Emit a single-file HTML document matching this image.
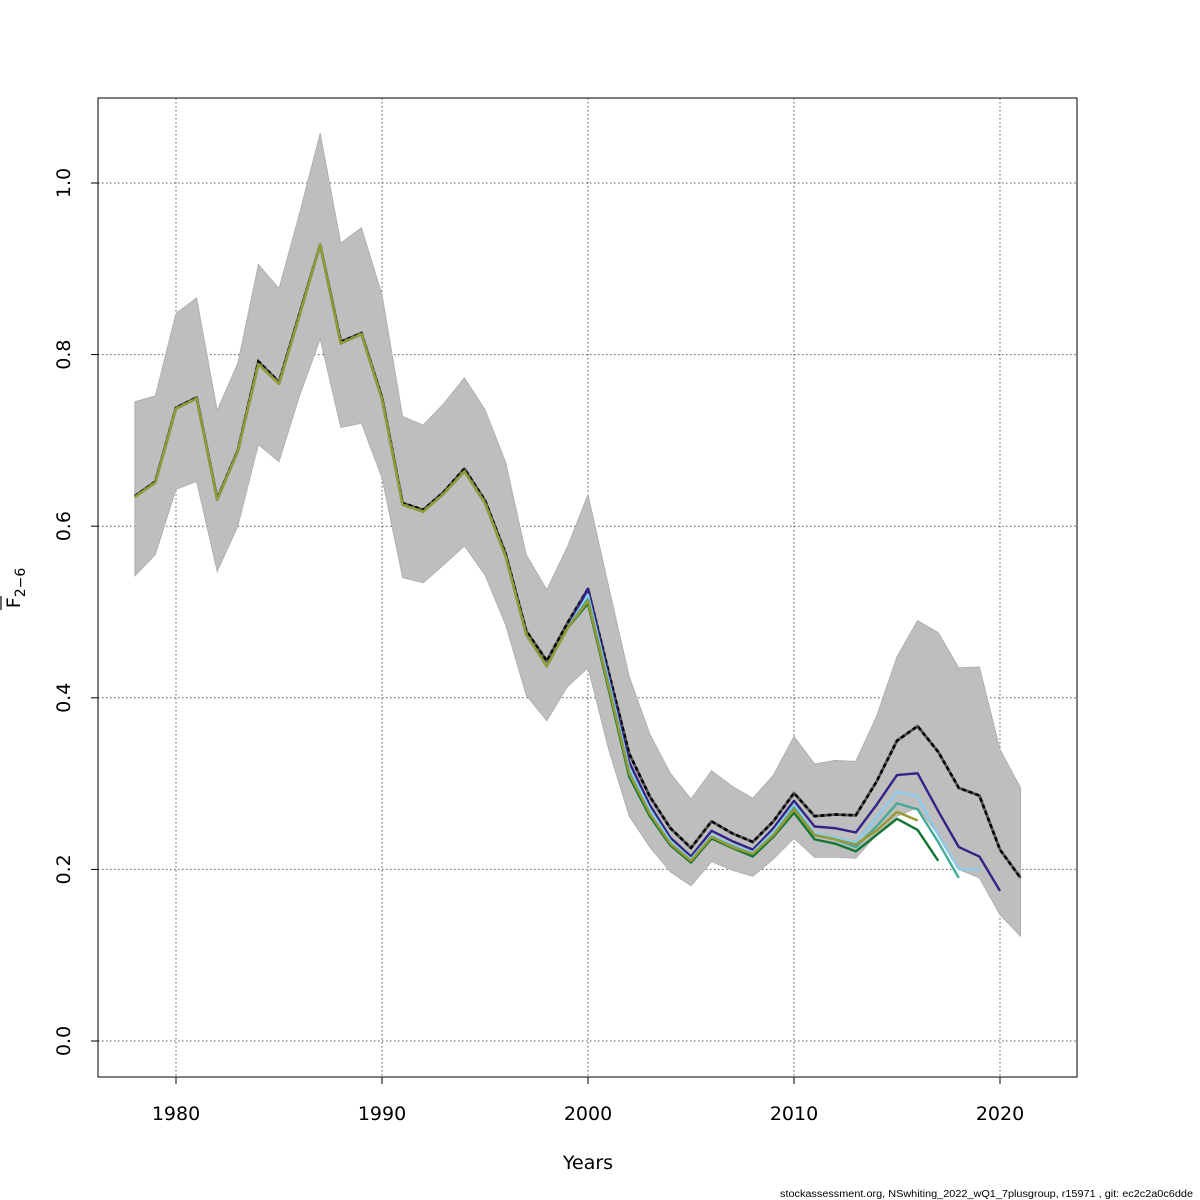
<!DOCTYPE html>
<html><head><meta charset="utf-8"><style>
body{margin:0;background:#fff;}
svg{display:block;font-family:"DejaVu Sans","Liberation Sans",sans-serif;}
</style></head><body>
<svg id="chart" width="1200" height="1200" viewBox="0 0 1200 1200">
<rect width="1200" height="1200" fill="#fff"/>
<g id="grid"></g>
<g id="band"></g>
<g id="lines"></g>
<rect x="98" y="98" width="979" height="979" fill="none" stroke="#000"/>
<g id="axes"></g>
<text x="588" y="1169" font-size="19" text-anchor="middle">Years</text>
<g transform="translate(20,588) rotate(-90)">
<text x="0" y="0" font-size="19" text-anchor="middle">F<tspan font-size="14" dy="5">2−6</tspan></text>
<line x1="-22" y1="-19" x2="-8" y2="-19" stroke="#000" stroke-width="1.2"/>
</g>
<text x="1193" y="1197" font-size="10" text-anchor="end" textLength="413" lengthAdjust="spacingAndGlyphs" font-family="Liberation Sans, sans-serif">stockassessment.org, NSwhiting_2022_wQ1_7plusgroup, r15971 , git: ec2c2a0c6dde</text>
</svg>
<script>
const years=[1978,1979,1980,1981,1982,1983,1984,1985,1986,1987,1988,1989,1990,1991,1992,1993,1994,1995,1996,1997,1998,1999,2000,2001,2002,2003,2004,2005,2006,2007,2008,2009,2010,2011,2012,2013,2014,2015,2016,2017,2018,2019,2020,2021];
const estimate=[.635,.652,.738,.75,.632,.688,.792,.768,.848,.928,.815,.825,.75,.627,.619,.64,.667,.63,.568,.478,.443,.487,.527,.43,.335,.285,.248,.225,.256,.242,.232,.256,.289,.262,.264,.263,.302,.35,.367,.337,.295,.286,.223,.19];
const upper=[.745,.752,.848,.866,.735,.79,.905,.877,.965,1.058,.93,.948,.87,.728,.718,.743,.773,.736,.675,.567,.526,.576,.637,.53,.425,.358,.312,.282,.315,.297,.283,.31,.355,.323,.327,.326,.378,.448,.49,.476,.435,.436,.34,.295];
const lower=[.542,.567,.643,.652,.547,.6,.695,.675,.752,.818,.715,.72,.656,.54,.534,.555,.577,.543,.485,.403,.373,.413,.435,.34,.262,.226,.197,.181,.209,.199,.192,.212,.236,.214,.214,.213,.24,.262,.272,.24,.2,.19,.147,.122];
const early=[.634,.651,.737,.749,.631,.687,.789,.766,.846,.928,.813,.824,.748,.625,.617,.638,.664,.627,.565,.474,.437,.481];
const retroNavy=[.527,.425,.325,.275,.237,.215,.245,.233,.223,.248,.28,.25,.248,.243,.275,.31,.312,.268,.226,.215,.175];
const retroLightBlue=[.52,.42,.318,.27,.233,.212,.24,.228,.22,.244,.275,.242,.237,.232,.26,.29,.285,.24,.2,.2];
const retroTeal=[.515,.415,.313,.265,.23,.21,.238,.227,.218,.24,.272,.24,.235,.226,.25,.277,.27,.232,.19];
const retroGreen=[.51,.41,.308,.262,.228,.208,.236,.225,.215,.238,.266,.235,.23,.221,.24,.259,.246,.21];
const retroOlive=[.513,.413,.312,.265,.23,.21,.238,.226,.218,.24,.27,.24,.235,.229,.245,.267,.257];
const xTicks=[1980,1990,2000,2010,2020];
const yTicks=[0,0.2,0.4,0.6,0.8,1.0];
const yTickLabels=["0.0","0.2","0.4","0.6","0.8","1.0"];

const NS="http://www.w3.org/2000/svg";
const X=y=>176+(y-1980)*20.6;
const Y=v=>1041-v*858;
function mk(tag,attrs,parent){const e=document.createElementNS(NS,tag);for(const k in attrs)e.setAttribute(k,attrs[k]);parent.appendChild(e);return e;}
const grid=document.getElementById('grid'),band=document.getElementById('band'),lines=document.getElementById('lines'),axes=document.getElementById('axes');
xTicks.forEach(t=>{
  const l=mk('line',{x1:X(t),x2:X(t),y1:98,y2:1077,stroke:'#555','stroke-dasharray':'1.5,2.5','stroke-width':1},grid);
  
  
  const tk=mk('line',{x1:X(t),x2:X(t),y1:1077,y2:1084,stroke:'#000'},axes);
  
  
  const tx=mk('text',{x:X(t),y:1120,'font-size':19,'text-anchor':'middle'},axes);tx.textContent=t;
  
  
});
yTicks.forEach((t,i)=>{
  const l=mk('line',{x1:98,x2:1077,y1:Y(t),y2:Y(t),stroke:'#555','stroke-dasharray':'1.5,2.5','stroke-width':1},grid);
  
  
  const tk=mk('line',{x1:91,x2:98,y1:Y(t),y2:Y(t),stroke:'#000'},axes);
  
  
  const tx=mk('text',{x:0,y:0,'font-size':19,'text-anchor':'middle',transform:`translate(70,${Y(t)}) rotate(-90)`},axes);tx.textContent=yTickLabels[i];
  
  
});
let d=years.map((yr,i)=>(i?'L':'M')+X(yr)+','+Y(upper[i])).join('');
for(let i=years.length-1;i>=0;i--)d+='L'+X(years[i])+','+Y(lower[i]);
const poly=mk('path',{d:d+'Z',fill:'#bebebe',stroke:'#aaa','stroke-width':0.8},band);


function path(vals,startIdx){return vals.map((v,i)=>(i?'L':'M')+X(years[startIdx+i])+','+Y(v)).join('');}
const b1=mk('path',{d:path(estimate,0),fill:'none',stroke:'#555','stroke-width':2.8,'stroke-linejoin':'round'},lines);


const b2=mk('path',{d:path(estimate,0),fill:'none',stroke:'#000','stroke-width':2.6,'stroke-dasharray':'4,3'},lines);


const retros=[[retroNavy,'#332288','retro-2020'],[retroLightBlue,'#88ccee','retro-2019'],[retroTeal,'#44aa99','retro-2018'],[retroGreen,'#117733','retro-2017'],[retroOlive,'#999933','retro-2016']];
retros.forEach(([vals,col,name])=>{
  const full=early.concat(vals);
  const p=mk('path',{d:path(full,0),fill:'none',stroke:col,'stroke-width':2.4,'stroke-linejoin':'round'},lines);
  
  
});
</script>
</body></html>
